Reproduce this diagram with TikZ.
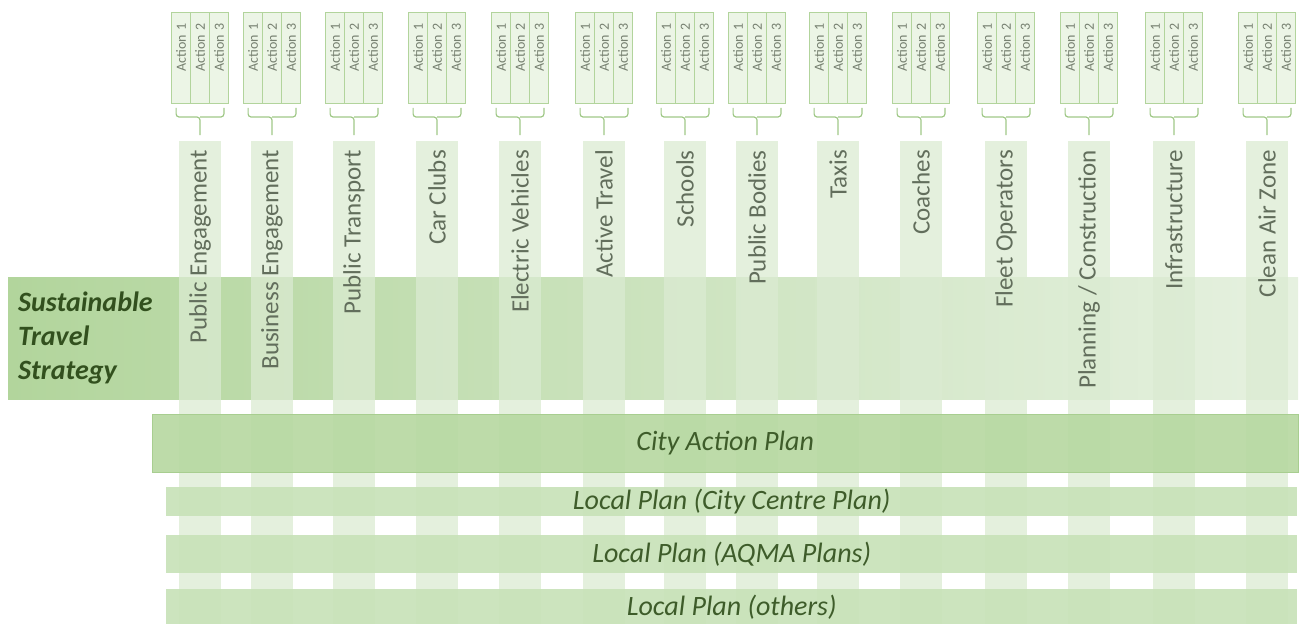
\documentclass[tikz,border=0pt]{standalone}
\usepackage{fontspec}
\setmainfont{Carlito}
\usepackage{tikz}
\usetikzlibrary{positioning, calc}
\definecolor{bandDark}{RGB}{178,213,156}
\definecolor{bandLight}{RGB}{230,241,224}
\definecolor{stripFill}{RGB}{219,235,210}
\definecolor{labelGray}{RGB}{98,110,92}
\definecolor{actGray}{RGB}{118,128,112}
\definecolor{cellFill}{RGB}{236,245,230}
\definecolor{cellDraw}{RGB}{178,212,156}
\definecolor{braceGreen}{RGB}{160,200,135}
\definecolor{capFill}{RGB}{183,216,162}
\definecolor{capDraw}{RGB}{168,206,144}
\definecolor{localFill}{RGB}{200,226,185}
\definecolor{planText}{RGB}{62,92,42}
\definecolor{stsText}{RGB}{50,80,30}
\tikzset{
    sts_band/.style={
        rectangle, anchor=north west, inner sep=0pt, minimum width=1290pt, minimum height=122pt,
        left color=bandDark, right color=bandLight
    },
    sts_text/.style={
        anchor=west, align=left, inner sep=0pt, text=stsText, font=\bfseries\itshape\fontsize{28}{34}\selectfont
    },
    strip/.style={
        rectangle, anchor=north, inner sep=0pt, minimum width=42pt, minimum height=483pt,
        fill=stripFill, fill opacity=0.75
    },
    col_label/.style={
        rotate=90, anchor=east, inner sep=0pt, text=labelGray, font=\fontsize{25}{30}\selectfont
    },
    act_cell/.style={
        rectangle, rotate=90, anchor=east, draw=cellDraw, fill=cellFill, line width=0.8pt,
        minimum width=91pt, minimum height=19pt, text width=69pt, align=right,
        inner xsep=11pt, inner ysep=0pt, text=actGray, font=\fontsize{14}{16}\selectfont
    },
    brace/.style={
        draw=braceGreen, line width=1.2pt, rounded corners=3pt
    },
    plan_band/.style={
        rectangle, anchor=north west, inner sep=0pt, fill=localFill, fill opacity=0.92, text opacity=1,
        minimum width=1131pt, text=planText, font=\itshape\fontsize{28}{34}\selectfont
    },
    cap_band/.style={
        plan_band, draw=capDraw, fill=capFill, minimum width=1146pt
    }
}

\begin{document}
\begin{tikzpicture}[x=1pt, y=-1pt]
    \useasboundingbox (0,0) rectangle (1304,624);

    % Strategie-Band
    \node[sts_band] (sts) at (8,277) {};
    \node[sts_text] (sts_lbl) at ($(sts.west)+(10,0)$) {Sustainable\\Travel\\Strategy};

    % Themen-Spalten
    \foreach \x in {200,272,354,437,520,604,685,757,838,921,1006,1089,1174,1267}
        \node[strip] (strip\x) at (\x,141) {};

    % Plaene
    \node[cap_band, minimum height=58pt] (cap) at (152,414) {City Action Plan};
    \node[plan_band, minimum height=29pt] (ccp) at (166,487) {Local Plan (City Centre Plan)};
    \node[plan_band, minimum height=38pt] (aqma) at (166,535) {Local Plan (AQMA Plans)};
    \node[plan_band, minimum height=35pt] (others) at (166,589) {Local Plan (others)};

    % Beschriftungen, Aktionen und Klammern
    \foreach \x/\name in {200/{Public Engagement}, 272/{Business Engagement}, 354/{Public Transport},
            437/{Car Clubs}, 520/{Electric Vehicles}, 604/{Active Travel}, 685/{Schools},
            757/{Public Bodies}, 838/{Taxis}, 921/{Coaches}, 1006/{Fleet Operators},
            1089/{Planning / Construction}, 1174/{Infrastructure}, 1267/{Clean Air Zone}} {
        \node[col_label] (lab\x) at ($(strip\x.north)+(0,9)$) {\name};
        \node[act_cell] (act\x-1) at (\x-19,12) {Action 1};
        \node[act_cell] (act\x-2) at (\x,12) {Action 2};
        \node[act_cell] (act\x-3) at (\x+19,12) {Action 3};
        \draw[brace] ($(act\x-1.north west)+(5,4)$) |- ($(strip\x.north)+(0,-24)$) -- ($(strip\x.north)+(0,-6)$)
                     ($(act\x-3.south west)+(-5,4)$) |- ($(strip\x.north)+(0,-24)$);
    }
\end{tikzpicture}
\end{document}
